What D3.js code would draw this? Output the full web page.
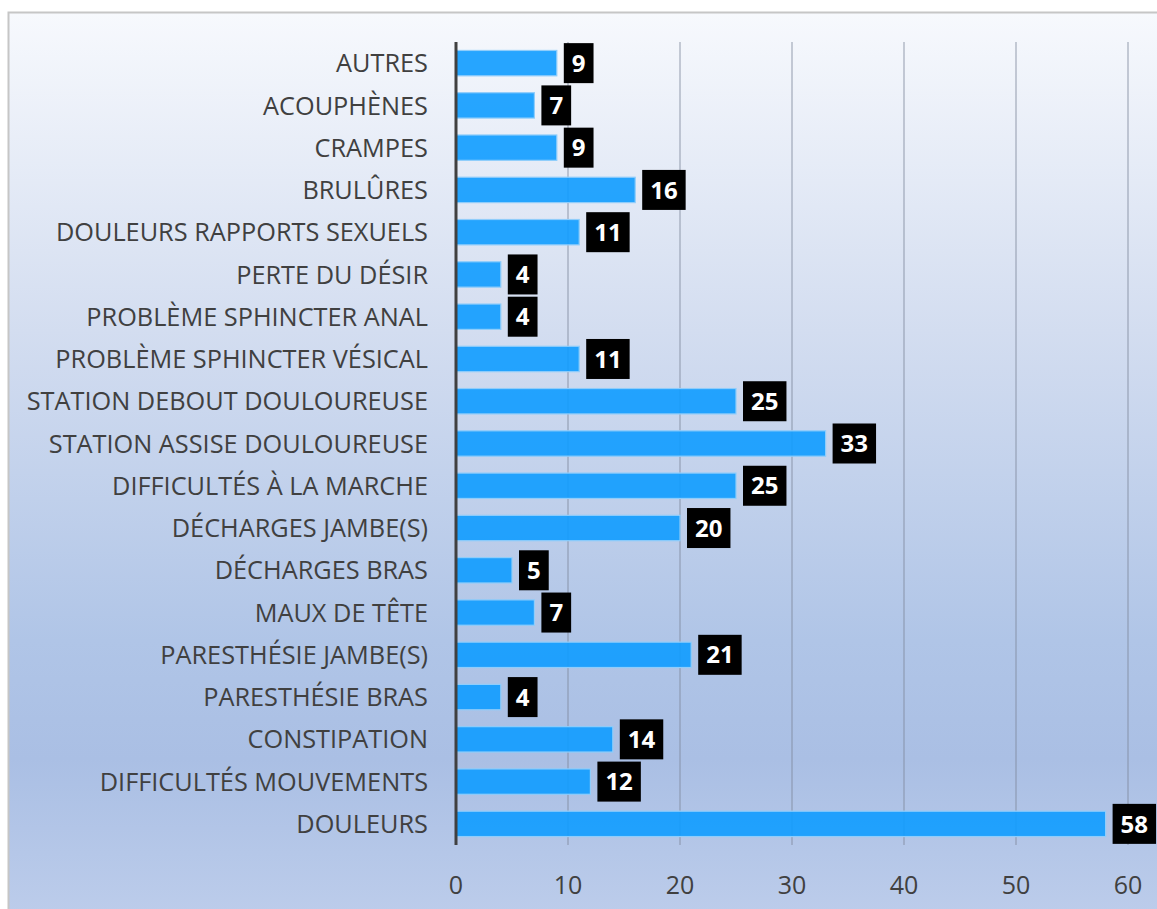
<!DOCTYPE html>
<html>
<head>
<meta charset="utf-8">
<script src="https://cdn.jsdelivr.net/npm/d3@7"></script>
<style>
  body { margin: 0; background: #ffffff; }
  svg { display: block; }
</style>
</head>
<body>
<svg id="chart" width="1157" height="909"></svg>
<script>
// categories top to bottom, as in the picture
let categories = [
    'AUTRES', 'ACOUPHÈNES', 'CRAMPES', 'BRULÛRES', 'DOULEURS RAPPORTS SEXUELS',
    'PERTE DU DÉSIR', 'PROBLÈME SPHINCTER ANAL', 'PROBLÈME SPHINCTER VÉSICAL',
    'STATION DEBOUT DOULOUREUSE', 'STATION ASSISE DOULOUREUSE', 'DIFFICULTÉS À LA MARCHE',
    'DÉCHARGES JAMBE(S)', 'DÉCHARGES BRAS', 'MAUX DE TÊTE', 'PARESTHÉSIE JAMBE(S)',
    'PARESTHÉSIE BRAS', 'CONSTIPATION', 'DIFFICULTÉS MOUVEMENTS', 'DOULEURS'
]
let counts = [9, 7, 9, 16, 11, 4, 4, 11, 25, 33, 25, 20, 5, 7, 21, 4, 14, 12, 58]
let xTicks = [0, 10, 20, 30, 40, 50, 60]

let rows = categories.map((c, i) => ({ name: c, value: counts[i] }))

let svg = d3.select('#chart')
let font = "'Open Sans', 'DejaVu Sans', sans-serif"

// background gradient
let defs = svg.append('defs')
let grad = defs.append('linearGradient')
    .attr('id', 'bg')
    .attr('x1', 0).attr('y1', 0).attr('x2', 0).attr('y2', 1)
let stops = [[0, '#f7f9fd'], [0.35, '#d3ddf0'], [0.69, '#b0c5e7'], [0.82, '#aabfe4'], [1, '#bdcdeb']]
stops.forEach(s => {
    grad.append('stop').attr('offset', s[0]).attr('stop-color', s[1])
})

svg.append('rect')
    .attr('x', 8.5).attr('y', 12.5)
    .attr('width', 1160).attr('height', 910)
    .attr('fill', 'url(#bg)')
    .attr('stroke', '#c6c6c6')
    .attr('stroke-width', 2)

let x = d3.scaleLinear().domain([0, 60]).range([456, 1128])
let y = d3.scaleBand().domain(categories).range([42, 845])
    .paddingInner(0.4).paddingOuter(0.2)

// gridlines
svg.append('g')
    .selectAll('line')
    .data(xTicks.filter(t => t > 0))
    .enter()
    .append('line')
    .attr('x1', d => x(d)).attr('x2', d => x(d))
    .attr('y1', 42).attr('y2', 845)
    .attr('stroke', '#7f899c')
    .attr('stroke-opacity', 0.55)
    .attr('stroke-width', 1.5)

// bars
svg.append('g')
    .selectAll('rect')
    .data(rows)
    .enter()
    .append('rect')
    .attr('x', x(0))
    .attr('y', d => y(d.name))
    .attr('width', d => x(d.value) - x(0))
    .attr('height', y.bandwidth())
    .attr('fill', '#109cff')
    .attr('fill-opacity', 0.9)
    .attr('stroke', '#8fcdfb')
    .attr('stroke-width', 1.2)

// vertical axis line
svg.append('line')
    .attr('x1', x(0)).attr('x2', x(0))
    .attr('y1', 42).attr('y2', 845)
    .attr('stroke', '#404040')
    .attr('stroke-width', 3)

// category labels
svg.append('g')
    .selectAll('text')
    .data(rows)
    .enter()
    .append('text')
    .attr('x', 428)
    .attr('y', d => y(d.name) + y.bandwidth() / 2)
    .attr('dy', '0.36em')
    .attr('text-anchor', 'end')
    .attr('font-family', font)
    .attr('font-size', 25.3)
    .attr('fill', '#404040')
    .text(d => d.name)

// x tick labels
svg.append('g')
    .selectAll('text')
    .data(xTicks)
    .enter()
    .append('text')
    .attr('x', d => x(d))
    .attr('y', 885)
    .attr('dy', '0.36em')
    .attr('text-anchor', 'middle')
    .attr('font-family', font)
    .attr('font-size', 25)
    .attr('fill', '#404040')
    .text(d => d)

// value labels in black boxes
let vl = svg.append('g')
    .selectAll('g')
    .data(rows)
    .enter()
    .append('g')
    .attr('transform', d => 'translate(' + (x(d.value) + 7) + ',' + (y(d.name) + y.bandwidth() / 2) + ')')

let vtext = vl.append('text')
    .attr('dy', '0.36em')
    .attr('font-family', font)
    .attr('font-weight', 'bold')
    .attr('font-size', 24)
    .attr('fill', '#ffffff')
    .text(d => d.value)

vtext.each(function(d) {
    let w = this.getComputedTextLength()
    d.boxW = w + 16
})
vl.insert('rect', 'text')
    .attr('x', 0)
    .attr('y', -20)
    .attr('width', d => d.boxW)
    .attr('height', 40)
    .attr('fill', '#000000')
vtext.attr('x', d => d.boxW / 2).attr('text-anchor', 'middle')
</script>
</body>
</html>
